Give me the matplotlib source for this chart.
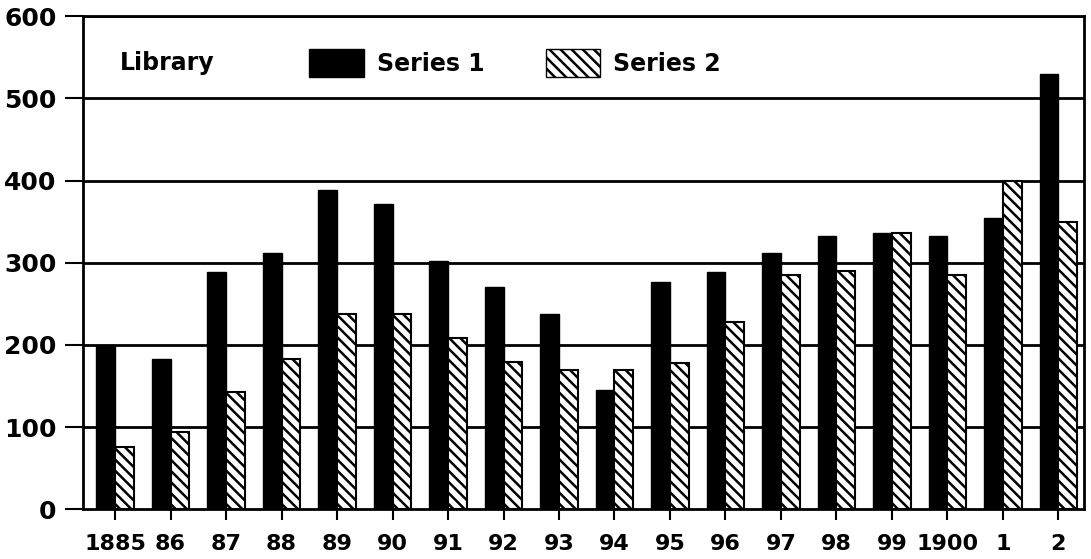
import numpy as np
import matplotlib
matplotlib.use("Agg")
import matplotlib.pyplot as plt
from matplotlib.patches import Patch

# --- data ---
years = ["1885", "86", "87", "88", "89", "90", "91", "92", "93", "94",
         "95", "96", "97", "98", "99", "1900", "1", "2"]
series_1 = [200, 183, 289, 312, 388, 371, 302, 270, 237, 145,
            277, 289, 312, 332, 336, 332, 355, 530]
series_2 = [76, 94, 143, 183, 238, 237, 208, 179, 170, 170,
            178, 228, 285, 290, 336, 285, 400, 350]
y_ticks = [0, 100, 200, 300, 400, 500, 600]

plt.rcParams['font.family'] = ['DejaVu Sans']
plt.rcParams['font.weight'] = 'bold'
plt.rcParams['hatch.linewidth'] = 1.8

fig = plt.figure(figsize=(10.91, 5.59), dpi=100)
ax = fig.add_axes([0.076, 0.089, 0.918, 0.882])

x = np.arange(len(years))
w = 0.34
ax.bar(x - w / 2, series_1, width=w, color="black", edgecolor="black",
       linewidth=1.0, zorder=3)
ax.bar(x + w / 2, series_2, width=w, color="white", edgecolor="black",
       hatch="\\\\\\", linewidth=1.5, zorder=3)

# grid lines
for v in y_ticks[1:]:
    ax.axhline(v, color="black", linewidth=2.0, zorder=1)

ax.set_xlim(-0.58, len(years) - 0.53)
ax.set_ylim(0, 600)
ax.set_yticks(y_ticks)
ax.set_xticks(x)
ax.set_xticklabels(years)
ax.tick_params(axis='x', labelsize=16, width=1.5, length=8, pad=10)
ax.tick_params(axis='y', labelsize=18, width=1.5, length=13, pad=6)
for lbl in ax.get_xticklabels() + ax.get_yticklabels():
    lbl.set_fontweight('bold')

for s in ax.spines.values():
    s.set_linewidth(2.0)
ax.spines['bottom'].set_zorder(4)

# legend
ax.text(0.037, 0.905, "Library", transform=ax.transAxes, fontsize=17,
        fontweight='bold', va='center', ha='left')
handles = [Patch(facecolor="black", edgecolor="black", label="Series 1"),
           Patch(facecolor="white", edgecolor="black", hatch="\\\\\\",
                 label="Series 2")]
ax.legend(handles=handles, loc='center left', bbox_to_anchor=(0.205, 0.905),
          ncol=2, frameon=False, handlelength=2.3, handleheight=1.5,
          handletextpad=0.55, columnspacing=2.6,
          prop={'weight': 'bold', 'size': 17})

fig.savefig("out.png", dpi=100, facecolor="white")
